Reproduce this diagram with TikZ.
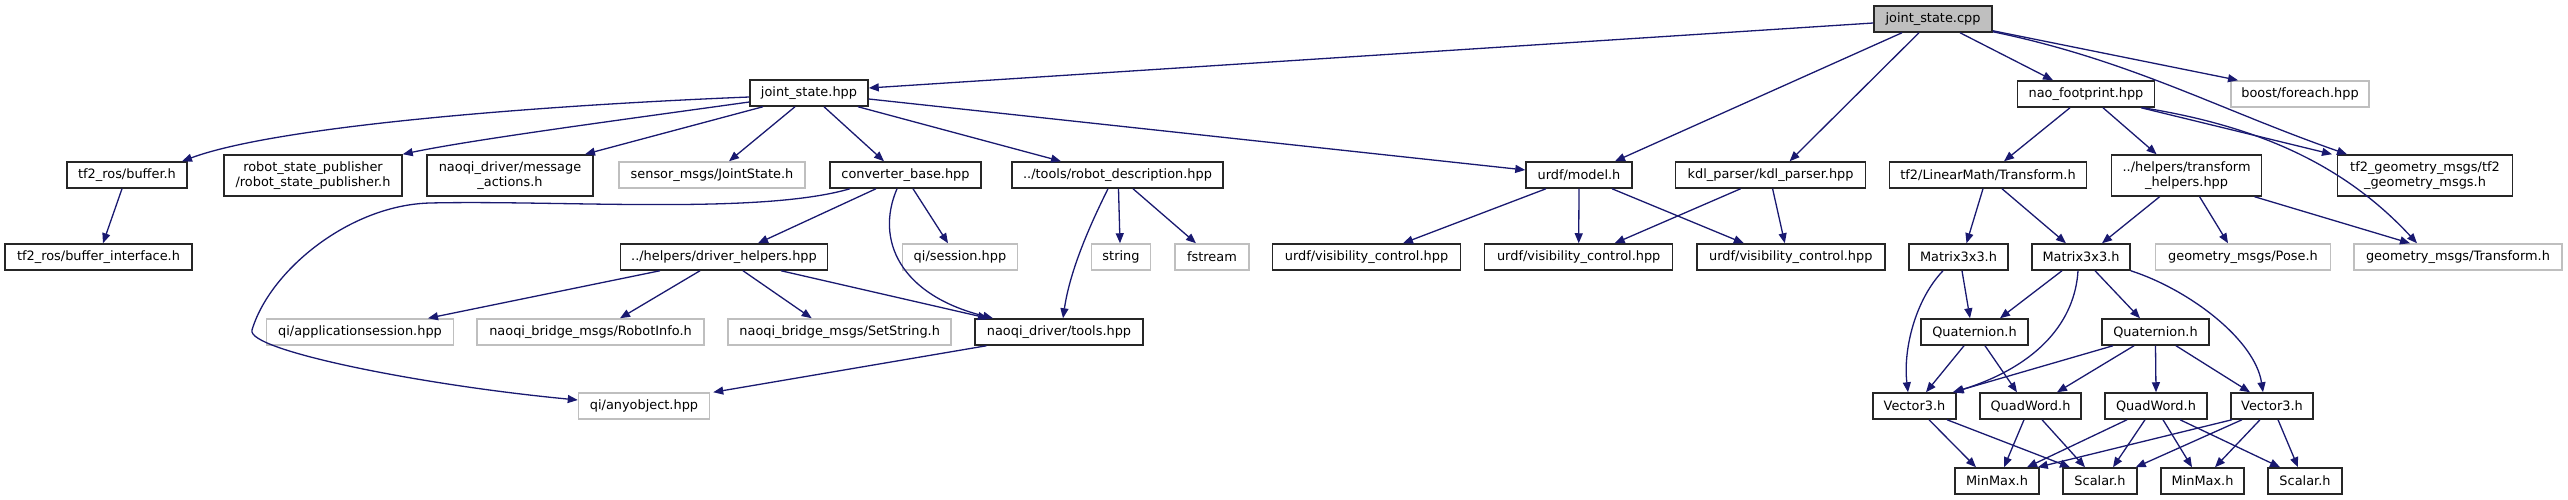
\documentclass[tikz,border=0pt]{standalone}
\usepackage{fontspec}
\setmainfont{DejaVu Sans}
\usetikzlibrary{arrows.meta}
\definecolor{edgec}{HTML}{191970}
\definecolor{gborder}{HTML}{BFBFBF}
\definecolor{cppfill}{HTML}{BFBFBF}
\tikzset{
  nb/.style={draw=black!85, fill=white, line width=1.5pt, inner sep=0pt, minimum height=26pt, align=center,
    font=\fontsize{12.9pt}{15pt}\selectfont},
  ng/.style={nb, draw=gborder},
  tall/.style={minimum height=41pt},
  ed/.style={draw=edgec, line width=1.3pt, -{Triangle[length=10pt,width=8pt]}}
}
\begin{document}
\begin{tikzpicture}[x=1pt,y=-1pt]
\useasboundingbox (0,0) rectangle (2568,500);
% row 0
\node[nb, fill=cppfill, minimum width=118pt] (cpp) at (1933,19) {joint\_state.cpp};
% row 1
\node[nb, minimum width=118pt] (jshpp) at (809,93) {joint\_state.hpp};
\node[nb, minimum width=137pt] (nao) at (2086,94) {nao\_footprint.hpp};
\node[ng, minimum width=138pt] (boost) at (2300,94) {boost/foreach.hpp};
% row 2
\node[nb, minimum width=120pt] (buffer) at (127,175) {tf2\_ros/buffer.h};
\node[nb, tall, minimum width=178pt] (rsp) at (313,175.5) {robot\_state\_publisher\\/robot\_state\_publisher.h};
\node[nb, tall, minimum width=166pt] (msgact) at (510,175.5) {naoqi\_driver/message\\\_actions.h};
\node[ng, minimum width=186pt] (sensor) at (712,175) {sensor\_msgs/JointState.h};
\node[nb, minimum width=151pt] (conv) at (905.5,175) {converter\_base.hpp};
\node[nb, minimum width=211pt] (robdesc) at (1117.5,175) {../tools/robot\_description.hpp};
\node[nb, minimum width=106pt] (model) at (1579,175) {urdf/model.h};
\node[nb, minimum width=190pt] (kdl) at (1770.6,175) {kdl\_parser/kdl\_parser.hpp};
\node[nb, minimum width=197pt] (tf2tr) at (1988,175) {tf2/LinearMath/Transform.h};
\node[nb, tall, minimum width=150pt] (trhelp) at (2186.6,175.5) {../helpers/transform\\\_helpers.hpp};
\node[nb, tall, minimum width=175pt] (tf2gm) at (2425,175.5) {tf2\_geometry\_msgs/tf2\\\_geometry\_msgs.h};
% row 3
\node[nb, minimum width=187pt] (bufint) at (98.5,257) {tf2\_ros/buffer\_interface.h};
\node[nb, minimum width=207pt] (drvh) at (724,257) {../helpers/driver\_helpers.hpp};
\node[ng, minimum width=115pt] (sess) at (960,257) {qi/session.hpp};
\node[ng, minimum width=59pt] (string) at (1121,257) {string};
\node[ng, minimum width=74pt] (fstream) at (1212,257) {fstream};
\node[nb, minimum width=188pt] (vis1) at (1366.5,257) {urdf/visibility\_control.hpp};
\node[nb, minimum width=188pt] (vis2) at (1578.7,257) {urdf/visibility\_control.hpp};
\node[nb, minimum width=188pt] (vis3) at (1790.8,257) {urdf/visibility\_control.hpp};
\node[nb, minimum width=99pt] (m1) at (1958.5,257) {Matrix3x3.h};
\node[nb, minimum width=98pt] (m2) at (2081,257) {Matrix3x3.h};
\node[ng, minimum width=175pt] (pose) at (2243,257) {geometry\_msgs/Pose.h};
\node[ng, minimum width=208pt] (gtr) at (2458,257) {geometry\_msgs/Transform.h};
% row 4
\node[ng, minimum width=187pt] (appsess) at (360,332) {qi/applicationsession.hpp};
\node[ng, minimum width=227pt] (robinfo) at (590.5,332) {naoqi\_bridge\_msgs/RobotInfo.h};
\node[ng, minimum width=223pt] (setstr) at (839.7,332) {naoqi\_bridge\_msgs/SetString.h};
\node[nb, minimum width=168pt] (tools) at (1059,332) {naoqi\_driver/tools.hpp};
\node[nb, minimum width=107pt] (q1) at (1974.5,332) {Quaternion.h};
\node[nb, minimum width=107pt] (q2) at (2155.5,332) {Quaternion.h};
% row 5
\node[ng, minimum width=131pt] (anyobj) at (644,406) {qi/anyobject.hpp};
\node[nb, minimum width=83pt] (v1) at (1914.5,406) {Vector3.h};
\node[nb, minimum width=101pt] (qw1) at (2030.5,406) {QuadWord.h};
\node[nb, minimum width=102pt] (qw2) at (2156,406) {QuadWord.h};
\node[nb, minimum width=82pt] (v2) at (2272,406) {Vector3.h};
% row 6
\node[nb, minimum width=84pt] (mm1) at (1997,481) {MinMax.h};
\node[nb, minimum width=74pt] (sc1) at (2100,481) {Scalar.h};
\node[nb, minimum width=83pt] (mm2) at (2202.5,481) {MinMax.h};
\node[nb, minimum width=74pt] (sc2) at (2305,481) {Scalar.h};

% edges from joint_state.cpp
\draw[ed] ([yshift=-4pt]cpp.west) -- ([yshift=5pt]jshpp.east);
\draw[ed] ([xshift=-31pt]cpp.south) -- ([xshift=36pt]model.north);
\draw[ed] ([xshift=-14pt]cpp.south) -- ([xshift=19pt]kdl.north);
\draw[ed] ([xshift=27pt]cpp.south) -- ([xshift=-33pt]nao.north);
\draw[ed] ([yshift=2pt]cpp.south east) -- ([xshift=-62pt]boost.north);
\draw[ed] ([yshift=1pt]cpp.south east) .. controls (2130,60) and (2220,110) .. ([xshift=-78pt]tf2gm.north);
% nao_footprint
\draw[ed] ([xshift=55pt]nao.south) -- ([xshift=-93pt]tf2gm.north);
\draw[ed] ([xshift=57pt]nao.south) .. controls (2250,125) and (2340,160) .. ([xshift=-41pt]gtr.north);
\draw[ed] ([xshift=-16pt]nao.south) -- ([xshift=16pt]tf2tr.north);
\draw[ed] ([xshift=17pt]nao.south) -- ([xshift=-30pt]trhelp.north);
% Transform.h and transform_helpers
\draw[ed] ([xshift=-5pt]tf2tr.south) -- ([xshift=8pt]m1.north);
\draw[ed] ([xshift=14pt]tf2tr.south) -- ([xshift=-15pt]m2.north);
\draw[ed] ([xshift=-27pt]trhelp.south) -- ([xshift=21pt]m2.north);
\draw[ed] ([xshift=13pt]trhelp.south) -- ([xshift=-15pt]pose.north);
\draw[ed] ([xshift=68pt]trhelp.south) -- ([xshift=-48pt]gtr.north);
% joint_state.hpp
\draw[ed] ([yshift=-4pt]jshpp.west) .. controls (550,105) and (280,125) .. ([xshift=55pt]buffer.north);
\draw[ed] ([yshift=-9pt]jshpp.west) .. controls (620,120) and (470,140) .. (rsp.north east);
\draw[ed] ([xshift=-46pt]jshpp.south) -- ([xshift=75pt]msgact.north);
\draw[ed] ([xshift=-14pt]jshpp.south) -- ([xshift=17pt]sensor.north);
\draw[ed] ([xshift=15pt]jshpp.south) -- ([xshift=-21.5pt]conv.north);
\draw[ed] ([xshift=49pt]jshpp.south) -- ([xshift=-56.5pt]robdesc.north);
\draw[ed] ([yshift=-6pt]jshpp.east) -- ([yshift=5pt]model.west);
\draw[ed] ([xshift=-5pt]buffer.south) -- ([xshift=4.5pt]bufint.north);
% converter_base
\draw[ed] ([xshift=-29.5pt]conv.south) -- ([xshift=34pt]drvh.north);
\draw[ed] ([xshift=-55.5pt]conv.south) .. controls (760,215) and (560,200) .. (430,203)
  .. controls (350,205) and (270,270) .. (252,330)
  .. controls (246,350) and (420,385) .. ([yshift=6pt]anyobj.west);
\draw[ed] ([xshift=7.5pt]conv.south) -- ([xshift=-12pt]sess.north);
\draw[ed] ([xshift=-8.5pt]conv.south) .. controls (875,240) and (900,295) .. ([xshift=-66pt]tools.north);
% robot_description
\draw[ed] ([xshift=1pt]robdesc.south) -- ([xshift=-1pt]string.north);
\draw[ed] ([xshift=15.5pt]robdesc.south) -- ([xshift=-16pt]fstream.north);
\draw[ed] ([xshift=-9.5pt]robdesc.south) .. controls (1090,225) and (1070,270) .. ([xshift=4pt]tools.north);
% driver_helpers
\draw[ed] ([xshift=-64pt]drvh.south) -- ([xshift=68pt]appsess.north);
\draw[ed] ([xshift=-24pt]drvh.south) -- ([xshift=29.5pt]robinfo.north);
\draw[ed] ([xshift=19pt]drvh.south) -- ([xshift=-28pt]setstr.north);
\draw[ed] ([xshift=57pt]drvh.south) -- ([xshift=-71pt]tools.north);
\draw[ed] ([xshift=-72.5pt]tools.south) -- ([xshift=3pt]anyobj.north east);
% urdf/model.h and kdl
\draw[ed] ([xshift=-33pt]model.south) -- ([xshift=36.5pt]vis1.north);
\draw[ed] (model.south) -- (vis2.north);
\draw[ed] ([xshift=33pt]model.south) -- ([xshift=-47pt]vis3.north);
\draw[ed] ([xshift=-30pt]kdl.south) -- ([xshift=36pt]vis2.north);
\draw[ed] ([xshift=2pt]kdl.south) -- ([xshift=-6pt]vis3.north);
% Matrix3x3
\draw[ed] ([xshift=-15.5pt]m1.south) .. controls (1915,300) and (1903,350) .. ([xshift=-6.5pt]v1.north);
\draw[ed] ([xshift=3.5pt]m1.south) -- ([xshift=-4.5pt]q1.north);
\draw[ed] ([xshift=-19pt]m2.south) -- ([xshift=25.5pt]q1.north);
\draw[ed] ([xshift=-3pt]m2.south) .. controls (2075,320) and (2040,365) .. ([xshift=-3pt]v1.north east);
\draw[ed] ([xshift=14pt]m2.south) -- ([xshift=-15.5pt]q2.north);
\draw[ed] (m2.south east) .. controls (2190,290) and (2255,340) .. ([xshift=-9pt]v2.north);
% Quaternion
\draw[ed] ([xshift=-10.5pt]q1.south) -- ([xshift=11.5pt]v1.north);
\draw[ed] ([xshift=10.5pt]q1.south) -- ([xshift=-13.5pt]qw1.north);
\draw[ed] ([xshift=-42.5pt]q2.south) -- ([xshift=-4pt]v1.north east);
\draw[ed] ([xshift=-21.5pt]q2.south) -- ([xshift=26.5pt]qw1.north);
\draw[ed] (q2.south) -- (qw2.north);
\draw[ed] ([xshift=20.5pt]q2.south) -- ([xshift=-22pt]v2.north);
% bottom row
\draw[ed] ([xshift=14.5pt]v1.south) -- ([xshift=-21pt]mm1.north);
\draw[ed] ([xshift=32.5pt]v1.south) -- ([xshift=-30pt]sc1.north);
\draw[ed] ([xshift=-6.5pt]qw1.south) -- ([xshift=7pt]mm1.north);
\draw[ed] ([xshift=11.5pt]qw1.south) -- ([xshift=-15pt]sc1.north);
\draw[ed] ([xshift=-29pt]qw2.south) -- ([xshift=30pt]mm1.north);
\draw[ed] ([xshift=-11pt]qw2.south) -- ([xshift=13pt]sc1.north);
\draw[ed] ([xshift=7pt]qw2.south) -- ([xshift=-10.5pt]mm2.north);
\draw[ed] ([xshift=24pt]qw2.south) -- ([xshift=-25pt]sc2.north);
\draw[ed] ([xshift=-40pt]v2.south) -- ([xshift=-2pt]mm1.north east);
\draw[ed] ([xshift=-30pt]v2.south) -- ([xshift=-2pt]sc1.north east);
\draw[ed] ([xshift=-12pt]v2.south) -- ([xshift=12.5pt]mm2.north);
\draw[ed] ([xshift=6pt]v2.south) -- ([xshift=-7pt]sc2.north);
\end{tikzpicture}
\end{document}
